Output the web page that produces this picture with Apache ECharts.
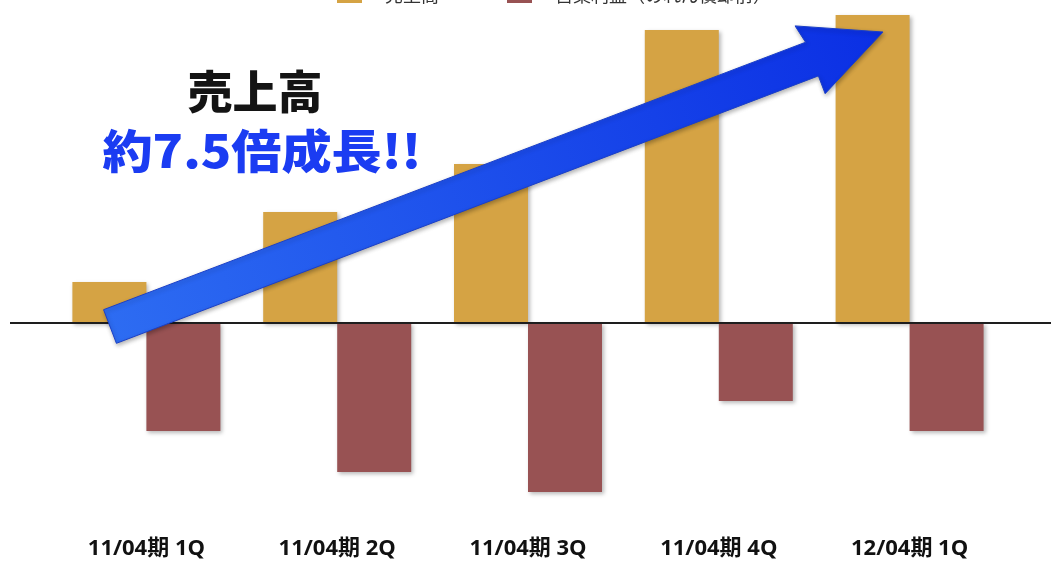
<!DOCTYPE html>
<html>
<head>
<meta charset="utf-8">
<script src="https://cdn.jsdelivr.net/npm/echarts@6/dist/echarts.min.js"></script>
<style>
  html, body { margin: 0; padding: 0; background: #ffffff; }
  #chart { width: 1051px; height: 565px; }
</style>
</head>
<body>
<div id="chart"></div>
<script>
// Quarterly sales and operating result (relative units)
const categories = ['11/04期 1Q', '11/04期 2Q', '11/04期 3Q', '11/04期 4Q', '12/04期 1Q'];
const seriesNames = ['売上高', '営業利益（のれん償却前）'];
const salesValues = [4.1, 11.1, 15.9, 29.3, 30.8];
const profitValues = [-10.8, -14.9, -16.9, -7.8, -10.8];
const headline = '売上高';
const growthText = '約7.5倍成長!!';

const chart = echarts.init(document.getElementById('chart'));

const barShadow = {
  shadowBlur: 4,
  shadowColor: 'rgba(0,0,0,0.28)',
  shadowOffsetX: 2,
  shadowOffsetY: 2
};

chart.setOption({
  animation: false,
  backgroundColor: '#ffffff',
  legend: {
    left: 332,
    top: -19,
    itemWidth: 25,
    itemHeight: 16,
    itemGap: 68,
    icon: 'rect',
    textStyle: { fontSize: 18, color: '#333', padding: [0, 0, 0, 18],
      fontFamily: "'Noto Sans CJK JP', sans-serif" },
    data: seriesNames
  },
  grid: { left: 51, right: 46, top: 3, bottom: 42 },
  xAxis: {
    type: 'category',
    data: categories,
    position: 'bottom',
    axisLine: { show: false },
    axisTick: { show: false },
    axisLabel: {
      margin: 15,
      fontSize: 22,
      fontWeight: 'bold',
      color: '#111',
      fontFamily: "'Open Sans', 'Noto Sans CJK JP', sans-serif"
    }
  },
  yAxis: {
    type: 'value',
    min: -20,
    max: 32,
    show: false,
    splitLine: { show: false }
  },
  series: [
    {
      name: seriesNames[0],
      type: 'bar',
      data: salesValues,
      barWidth: 74,
      barGap: '0%',
      itemStyle: Object.assign({ color: '#d5a344' }, barShadow)
    },
    {
      name: seriesNames[1],
      type: 'bar',
      data: profitValues,
      barWidth: 74,
      itemStyle: Object.assign({ color: '#985253' }, barShadow)
    }
  ]
});

// Zero line across the full width, placed from the value scale
const zeroY = chart.convertToPixel({ gridIndex: 0 }, [0, 0])[1];

// Growth arrow: tail near the first bar, head beside the last one
const tail = [110, zeroY + 3.5];
const tip = [883, 32];
const dx = tip[0] - tail[0], dy = tip[1] - tail[1];
const len = Math.sqrt(dx * dx + dy * dy);
const u = [dx / len, dy / len];
const n = [-u[1], u[0]];
const headLen = 76, shaftHalf = 18, headHalf = 37;
const at = (a, p) => [tail[0] + u[0] * a + n[0] * p, tail[1] + u[1] * a + n[1] * p];
const arrowPoints = [
  at(0, -shaftHalf),
  at(len - headLen, -shaftHalf),
  at(len - headLen - 4, -headHalf),
  tip,
  at(len - headLen, headHalf),
  at(len - headLen, shaftHalf),
  at(0, shaftHalf)
];

chart.setOption({
  graphic: [
    {
      type: 'line',
      z: 10,
      shape: { x1: 10, y1: zeroY, x2: 1051, y2: zeroY },
      style: { stroke: '#1e1e1e', lineWidth: 2 }
    },
    {
      type: 'polygon',
      z: 20,
      shape: { points: arrowPoints },
      style: {
        fill: new echarts.graphic.LinearGradient(tail[0], tail[1], tip[0], tip[1], [
          { offset: 0, color: '#2d6cf2' },
          { offset: 1, color: '#0b2fe4' }
        ], true),
        stroke: '#1a3fc8',
        lineWidth: 1,
        shadowBlur: 4,
        shadowColor: 'rgba(0,0,0,0.3)',
        shadowOffsetX: 1,
        shadowOffsetY: 2
      }
    },
    {
      type: 'text',
      z: 30,
      x: 255,
      y: 92,
      style: {
        text: headline,
        fill: '#141414',
        font: "900 45px 'Noto Sans CJK JP', sans-serif",
        align: 'center',
        verticalAlign: 'middle'
      }
    },
    {
      type: 'text',
      z: 30,
      x: 262,
      y: 151,
      scaleX: 1.09,
      style: {
        text: growthText,
        fill: '#1b3cf2',
        font: "900 46px 'Noto Sans CJK JP', sans-serif",
        align: 'center',
        verticalAlign: 'middle'
      }
    }
  ]
});
</script>
</body>
</html>
